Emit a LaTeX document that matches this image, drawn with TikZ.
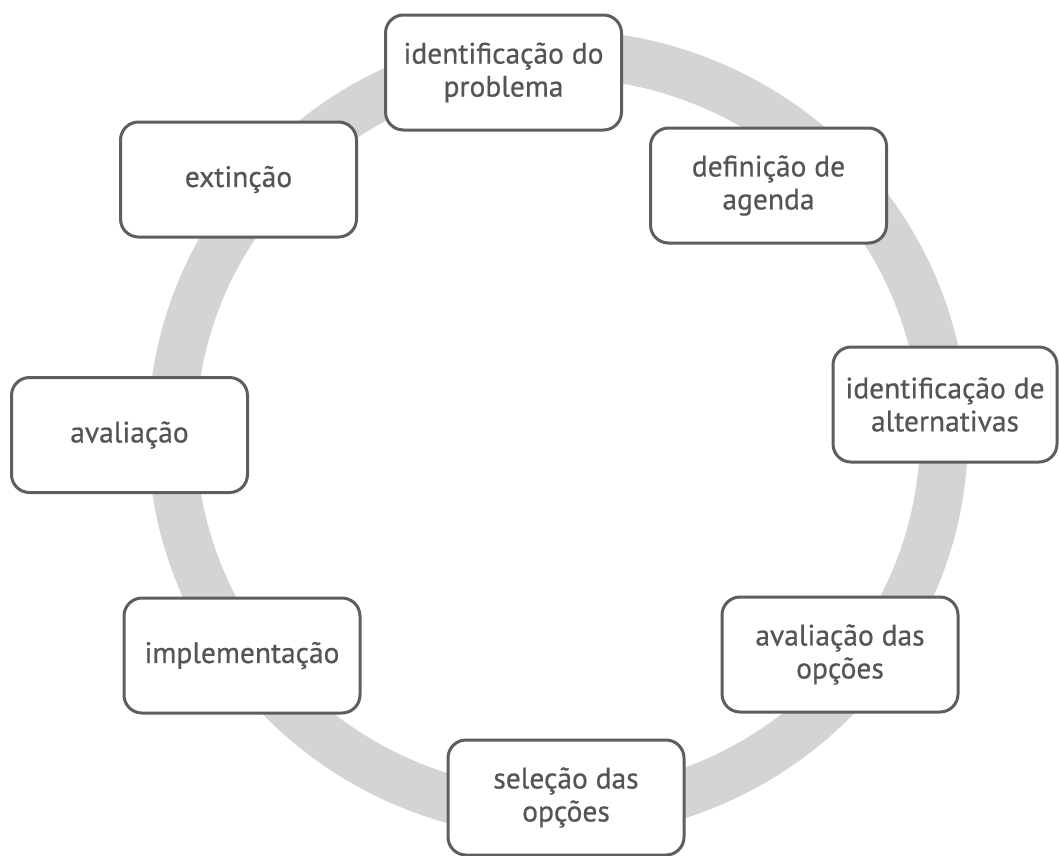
\documentclass[tikz,border=0pt]{standalone}
\usepackage{fontspec}
\setmainfont{PT Sans}
\newfontfamily\stagefont[FakeBold=0.6]{PT Sans}
\definecolor{ringgray}{HTML}{D4D4D4}
\definecolor{boxline}{HTML}{5E5E5E}
\definecolor{boxtext}{HTML}{555555}
\tikzset{
  stage/.style={draw=boxline, line width=3pt, fill=white, rounded corners=18pt,
    minimum width=236pt, minimum height=115pt, align=center, text=boxtext,
    font=\stagefont\fontsize{29.5}{33}\selectfont, inner sep=2pt},
}
\begin{document}
\begin{tikzpicture}[x=1pt,y=-1pt]
  \useasboundingbox (0,0) rectangle (1059,855);
  % the cycle ring behind the stages
  \draw[ringgray, line width=48pt] (558,434) ellipse [x radius=386, y radius=380];
  % stages of the policy cycle
  \node[stage] (problema) at (503.5,72.5) {identificação do\\problema};
  \node[stage] (agenda) at (768.5,185.5) {definição de\\agenda};
  \node[stage, minimum width=224pt] (alternativas) at (945,404.5) {identificação de\\alternativas};
  \node[stage] (avaliacaoopcoes) at (840,654.5) {avaliação das\\opções};
  \node[stage] (selecao) at (566,797.5) {seleção das\\opções};
  \node[stage] (implementacao) at (242,655.5) {implementação};
  \node[stage] (avaliacao) at (129.5,435) {avaliação};
  \node[stage] (extincao) at (238.5,179.5) {extinção};
\end{tikzpicture}
\end{document}
